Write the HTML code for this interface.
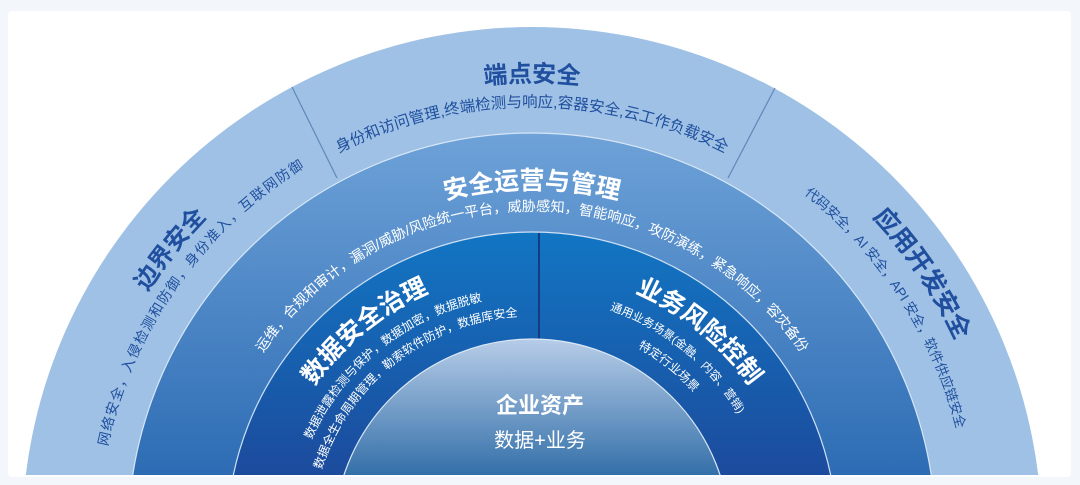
<!DOCTYPE html>
<html><head><meta charset="utf-8"><style>
html,body{margin:0;padding:0;background:#f3f6fb;width:1080px;height:485px;overflow:hidden;}
svg{display:block;}
text{font-family:"Liberation Sans","Noto Sans CJK SC",sans-serif;}
</style></head><body>
<svg width="1080" height="485" viewBox="0 0 1080 485" xmlns="http://www.w3.org/2000/svg">
<defs>
<linearGradient id="g2" x1="0" y1="133" x2="0" y2="475" gradientUnits="userSpaceOnUse"><stop offset="0" stop-color="#6ea2d8"/><stop offset="1" stop-color="#2d6cb4"/></linearGradient>
<linearGradient id="g3" x1="0" y1="232" x2="0" y2="475" gradientUnits="userSpaceOnUse"><stop offset="0" stop-color="#1276c3"/><stop offset="1" stop-color="#1c4b9d"/></linearGradient>
<linearGradient id="g4" x1="0" y1="339" x2="0" y2="475" gradientUnits="userSpaceOnUse"><stop offset="0" stop-color="#b7cde8"/><stop offset="1" stop-color="#3470a9"/></linearGradient>
<clipPath id="cb"><rect x="0" y="0" width="1080" height="475"/></clipPath>
<path id="p455" d="M77,537 A455,455 0 0 1 987,537"/>
<path id="p430" d="M102,537 A430,430 0 0 1 962,537"/>
<path id="p456" d="M76,537 A456,456 0 0 1 988,537"/>
<path id="p434" d="M98,537 A434,434 0 0 1 966,537"/>
<path id="p467" d="M65,537 A467,467 0 0 1 999,537"/>
<path id="p438" d="M94,537 A438,438 0 0 1 970,537"/>
<path id="p348" d="M184,537 A348,348 0 0 1 880,537"/>
<path id="p326" d="M206,537 A326,326 0 0 1 858,537"/>
<path id="p265" d="M267,537 A265,265 0 0 1 797,537"/>
<path id="p241" d="M291,537 A241,241 0 0 1 773,537"/>
<path id="p221" d="M311,537 A221,221 0 0 1 753,537"/>
<path id="p240" d="M292,537 A240,240 0 0 1 772,537"/>
<path id="p217" d="M315,537 A217,217 0 0 1 749,537"/>
</defs>
<rect x="8" y="11" width="1063" height="466" rx="4" fill="#ffffff"/>
<g clip-path="url(#cb)">
<circle cx="532" cy="537" r="510" fill="#9fc1e5"/>
<circle cx="532" cy="537" r="404" fill="url(#g2)" stroke="#d6e6f6" stroke-width="1.2"/>
<circle cx="532" cy="537" r="305" fill="url(#g3)" stroke="#cfe1f4" stroke-width="1.2"/>
<line x1="539" y1="233" x2="539" y2="345" stroke="#163b84" stroke-width="2"/>
<circle cx="532" cy="537" r="198" fill="url(#g4)" stroke="#dbe8f6" stroke-width="1.2"/>
</g>
<line x1="292" y1="87" x2="337" y2="178" stroke="#5f88b9" stroke-width="1.2"/>
<line x1="775" y1="88" x2="728" y2="178" stroke="#5f88b9" stroke-width="1.2"/>

<g fill="#1f4f9e">
<text font-size="24" font-weight="bold" text-anchor="middle"><textPath href="#p455" startOffset="50%">端点安全</textPath></text>
<text font-size="15.5" text-anchor="middle"><textPath href="#p430" startOffset="50%">身份和访问管理,终端检测与响应,容器安全,云工作负载安全</textPath></text>
<text font-size="24" font-weight="bold" text-anchor="middle"><textPath href="#p456" startOffset="21.4%">边界安全</textPath></text>
<text font-size="14" letter-spacing="1.3" text-anchor="middle"><textPath href="#p434" startOffset="19.6%">网络安全，入侵检测和防御，身份准入，互联网防御</textPath></text>
<text font-size="25" font-weight="bold" text-anchor="middle"><textPath href="#p467" startOffset="81.1%">应用开发安全</textPath></text>
<text font-size="13.5" text-anchor="middle"><textPath href="#p438" startOffset="81.7%">代码安全，AI 安全，API 安全，软件供应链安全</textPath></text>
</g>
<g fill="#ffffff">
<text font-size="25" font-weight="bold" text-anchor="middle"><textPath href="#p348" startOffset="50%">安全运营与管理</textPath></text>
<text font-size="14.2" text-anchor="middle"><textPath href="#p326" startOffset="50%">运维，合规和审计，漏洞/威胁/风险统一平台，威胁感知，智能响应，攻防演练，紧急响应，容灾备份</textPath></text>
<text font-size="25" font-weight="bold" text-anchor="middle"><textPath href="#p265" startOffset="28.3%">数据安全治理</textPath></text>
<text font-size="12" text-anchor="middle"><textPath href="#p241" startOffset="28.3%">数据泄露检测与保护，数据加密，数据脱敏</textPath></text>
<text font-size="12" text-anchor="middle"><textPath href="#p221" startOffset="28.9%">数据全生命周期管理，勒索软件防护，数据库安全</textPath></text>
<text font-size="25" font-weight="bold" text-anchor="middle"><textPath href="#p265" startOffset="71.7%">业务风险控制</textPath></text>
<text font-size="11.5" text-anchor="middle"><textPath href="#p240" startOffset="71.7%">通用业务场景(金融、内容、营销)</textPath></text>
<text font-size="12" text-anchor="middle"><textPath href="#p217" startOffset="71.5%">特定行业场景</textPath></text>
<text x="540" y="413" font-size="22" font-weight="bold" text-anchor="middle">企业资产</text>
<text x="540" y="447" font-size="20" text-anchor="middle">数据+业务</text>
</g>
</svg>
</body></html>
